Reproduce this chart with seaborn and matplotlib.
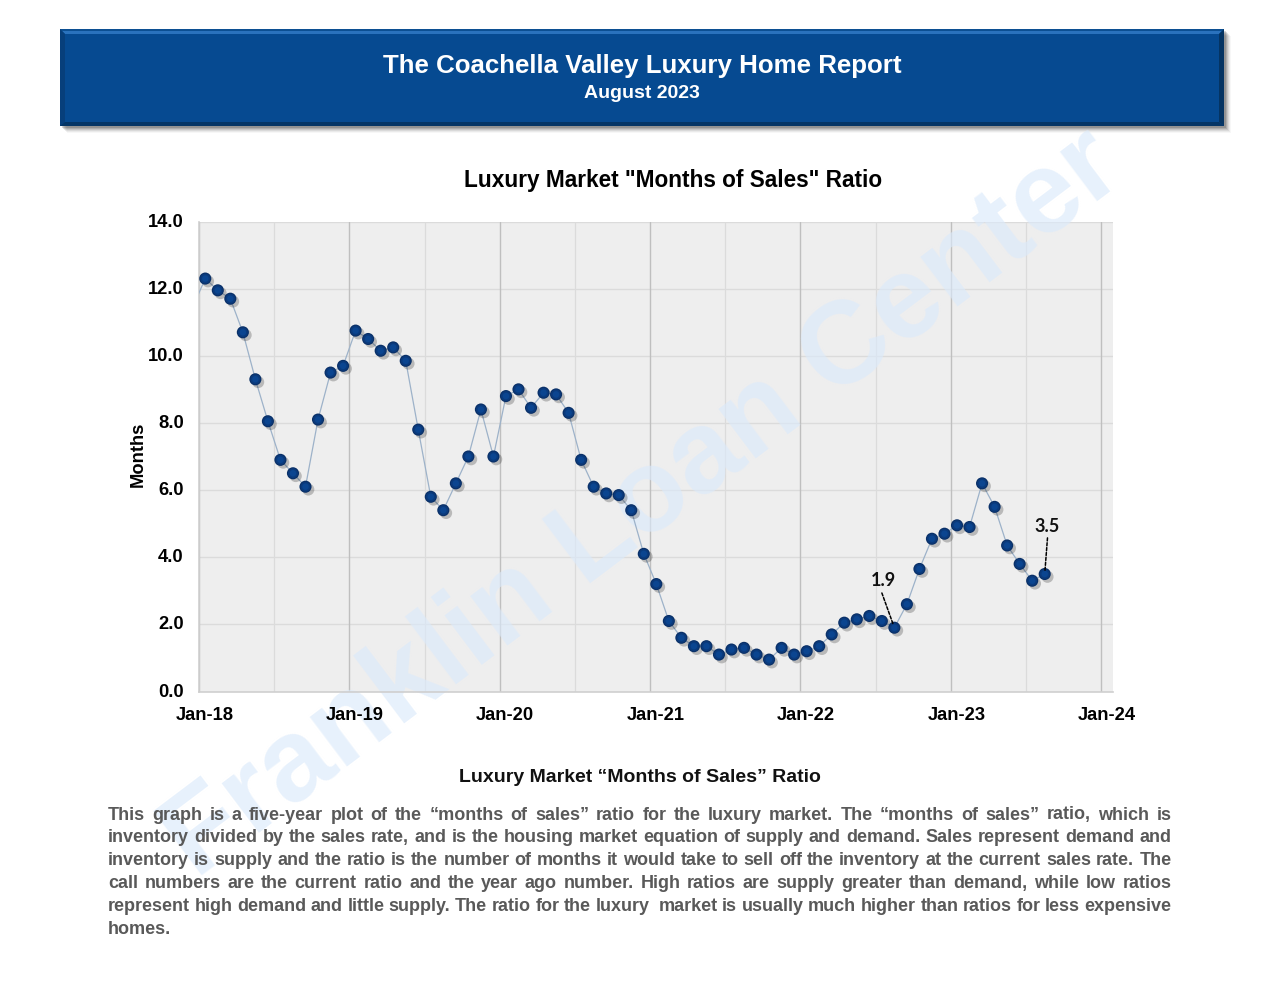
import numpy as np
import pandas as pd
import seaborn as sns
import matplotlib
matplotlib.use('Agg')
import matplotlib.pyplot as plt
import matplotlib.patheffects as pe
from matplotlib.patches import Rectangle, Polygon
from matplotlib.transforms import ScaledTranslation

sns.set_style('white')
plt.rcParams['font.family'] = ['Liberation Sans', 'DejaVu Sans']

# monthly values, Jan-18 to Aug-23 (start is the Dec-17 point, off the axis)
start = [11.45]
y2018 = [12.3, 11.95, 11.7, 10.7, 9.3, 8.05, 6.9, 6.5, 6.1, 8.1, 9.5, 9.7]
y2019 = [10.75, 10.5, 10.15, 10.25, 9.85, 7.8, 5.8, 5.4, 6.2, 7.0, 8.4, 7.0]
y2020 = [8.8, 9.0, 8.45, 8.9, 8.85, 8.3, 6.9, 6.1, 5.9, 5.85, 5.4, 4.1]
y2021 = [3.2, 2.1, 1.6, 1.35, 1.35, 1.1, 1.25, 1.3, 1.1, 0.95, 1.3, 1.1]
y2022 = [1.2, 1.35, 1.7, 2.05, 2.15, 2.25, 2.1, 1.9, 2.6, 3.65, 4.55, 4.7]
y2023 = [4.95, 4.9, 6.2, 5.5, 4.35, 3.8, 3.3, 3.5]
year_labels = ['Jan-18', 'Jan-19', 'Jan-20', 'Jan-21', 'Jan-22', 'Jan-23', 'Jan-24']
y_ticks = [0, 2, 4, 6, 8, 10, 12, 14]

values = start + y2018 + y2019 + y2020 + y2021 + y2022 + y2023
df = pd.DataFrame({'month': np.arange(len(values)) - 0.5, 'ratio': values})
pts = df[df.month > 0]

fig = plt.figure(figsize=(12.8, 9.89), dpi=100, facecolor='white')

# page layers in pixel coordinates: bg under the chart, fg over it
bg = fig.add_axes([0, 0, 1, 1], zorder=0)
fg = fig.add_axes([0, 0, 1, 1], zorder=3)
for layer in (bg, fg):
    layer.set_xlim(0, 1280)
    layer.set_ylim(989, 0)
    layer.axis('off')

# banner
for i, a in zip([7, 6, 5, 4, 3, 2], [0.03, 0.05, 0.07, 0.09, 0.12, 0.15]):
    bg.add_patch(Rectangle((60 + i, 29 + i), 1164, 97, fc='k', alpha=a, lw=0))
bg.add_patch(Rectangle((60, 29), 1164, 97, fc='#064a91', lw=0))
bg.add_patch(Polygon([(60, 29), (1224, 29), (1219, 34), (65, 34)], fc='#2a72bd', lw=0))
bg.add_patch(Rectangle((60, 29), 1164, 2, fc='#0c4f92', lw=0))
bg.add_patch(Polygon([(60, 29), (65, 34), (65, 122), (60, 126)], fc='#073f7b', lw=0))
bg.add_patch(Polygon([(1224, 29), (1219, 34), (1219, 122), (1224, 126)], fc='#053462', lw=0))
bg.add_patch(Polygon([(60, 126), (65, 122), (1219, 122), (1224, 126)], fc='#043566', lw=0))
fg.text(642, 66, 'The Coachella Valley Luxury Home Report', color='white', fontsize=18.6,
        fontweight='bold', ha='center', va='center')
fg.text(642, 93, 'August 2023', color='white', fontsize=14, fontweight='bold', ha='center', va='center')

# chart
ax = fig.add_axes([199 / 1280, 1 - 691.5 / 989, 914 / 1280, 470 / 989], zorder=1)
ax.set_facecolor('#eeeeee')
ax.set_axisbelow(False)
ax.set_xlim(0, 72.95)
ax.set_ylim(0, 14)
for v in y_ticks[1:]:
    ax.axhline(v, color='#dbdbdb', lw=1.0, zorder=1)
for m in range(6, 72, 12):
    ax.axvline(m, color='#dbdbdb', lw=0.9, zorder=1)
for m in range(0, 73, 12):
    ax.axvline(m, color='#bfbfbf', lw=1.0, zorder=1)

# watermark sits over the grid but under the data
ax.text(196, 880, 'Franklin Loan Center', transform=bg.transData, fontsize=84, fontweight='bold',
        color='#dbeafb', alpha=0.65, rotation=37, ha='left', va='baseline', rotation_mode='anchor',
        clip_on=False, zorder=2)

sns.lineplot(data=df, x='month', y='ratio', ax=ax, color='#9db2c9', lw=0.9, zorder=3)
sns.scatterplot(data=pts, x='month', y='ratio', ax=ax, color='#0a3067', s=76, edgecolor='none', zorder=4,
                path_effects=[pe.withSimplePatchShadow(offset=(2, -2), shadow_rgbFace='k', alpha=0.22)])
sns.scatterplot(data=pts, x='month', y='ratio', ax=ax, color='#0a3a7c', s=50, edgecolor='none', zorder=5)
sns.scatterplot(data=pts, x='month', y='ratio', ax=ax, color='#0b4590', s=22, edgecolor='none', zorder=6)

ax.set_xticks([0.45 + 12 * i for i in range(len(year_labels))])
ax.set_xticklabels(year_labels, fontsize=13.2, fontweight='bold', color='black')
ax.set_yticks(y_ticks)
ax.set_yticklabels(['%.1f' % v for v in y_ticks], fontsize=13.2, fontweight='bold', color='black')
ax.tick_params(axis='x', length=0, pad=11)
ax.tick_params(axis='y', length=0, pad=11)
up = ScaledTranslation(0, 1.0 / 72, fig.dpi_scale_trans)
for lab in ax.get_yticklabels():
    lab.set_transform(lab.get_transform() + up)
ax.set_xlabel('')
ax.set_ylabel('Months', fontsize=13.2, fontweight='bold', color='black')
ax.yaxis.set_label_coords((147 - 199) / 914, 0.505)
for side, s in ax.spines.items():
    s.set_visible(side in ('left', 'bottom'))
    s.set_color('#cfcfcf')
    s.set_linewidth(1.2)

# call outs
for xv, yv, lab, off, end in [(55.5, 1.9, '1.9', (-8, 28), (-9, 25)), (67.5, 3.5, '3.5', (2, 28), (2, 26))]:
    ax.annotate('', xy=(xv, yv), xytext=end, textcoords='offset points',
                arrowprops=dict(arrowstyle='-', ls=(0, (2, 1.2)), color='k', lw=1.1, shrinkA=0, shrinkB=2), zorder=7)
    ax.annotate(lab, xy=(xv, yv), xytext=off, textcoords='offset points', ha='center',
                va='bottom', fontsize=13, fontweight='bold', family='Lato', color='#111111', zorder=7)

fg.text(673, 180, 'Luxury Market "Months of Sales" Ratio', fontsize=16.3, fontweight='bold',
        ha='center', va='center', color='black')
fg.text(640, 777.5, 'Luxury Market \u201cMonths of Sales\u201d Ratio', fontsize=14, fontweight='bold',
        ha='center', va='center', color='#111111')

# body paragraph, justified by hand
para_lines = [
    'This graph is a five-year plot of the \u201cmonths of sales\u201d ratio for the luxury market. The \u201cmonths of sales\u201d ratio, which is',
    'inventory divided by the sales rate, and is the housing market equation of supply and demand. Sales represent demand and',
    'inventory is supply and the ratio is the number of months it would take to sell off the inventory at the current sales rate. The',
    'call numbers are the current ratio and the year ago number. High ratios are supply greater than demand, while low ratios',
    'represent high demand and little supply. The ratio for the luxury  market is usually much higher than ratios for less expensive',
]
last_line = 'homes.'
fig.canvas.draw()
rend = fig.canvas.get_renderer()
left, right = 108, 1171.5
para_kw = dict(fontsize=13, fontweight='bold', color='#595959', ha='left', va='center')
for n, line in enumerate(para_lines):
    words = line.split(' ')
    ts = [fg.text(left, 815 + n * 22.9, w, **para_kw) if w else None for w in words]
    ws = [t.get_window_extent(rend).width if t else 0 for t in ts]
    gap = (right - left - sum(ws)) / (len(words) - 1)
    x = left
    for t, w in zip(ts, ws):
        if t:
            t.set_x(x)
        x += w + gap
fg.text(left, 815 + 5 * 22.9, last_line, **para_kw)

fig.savefig('out.png', dpi=100)
